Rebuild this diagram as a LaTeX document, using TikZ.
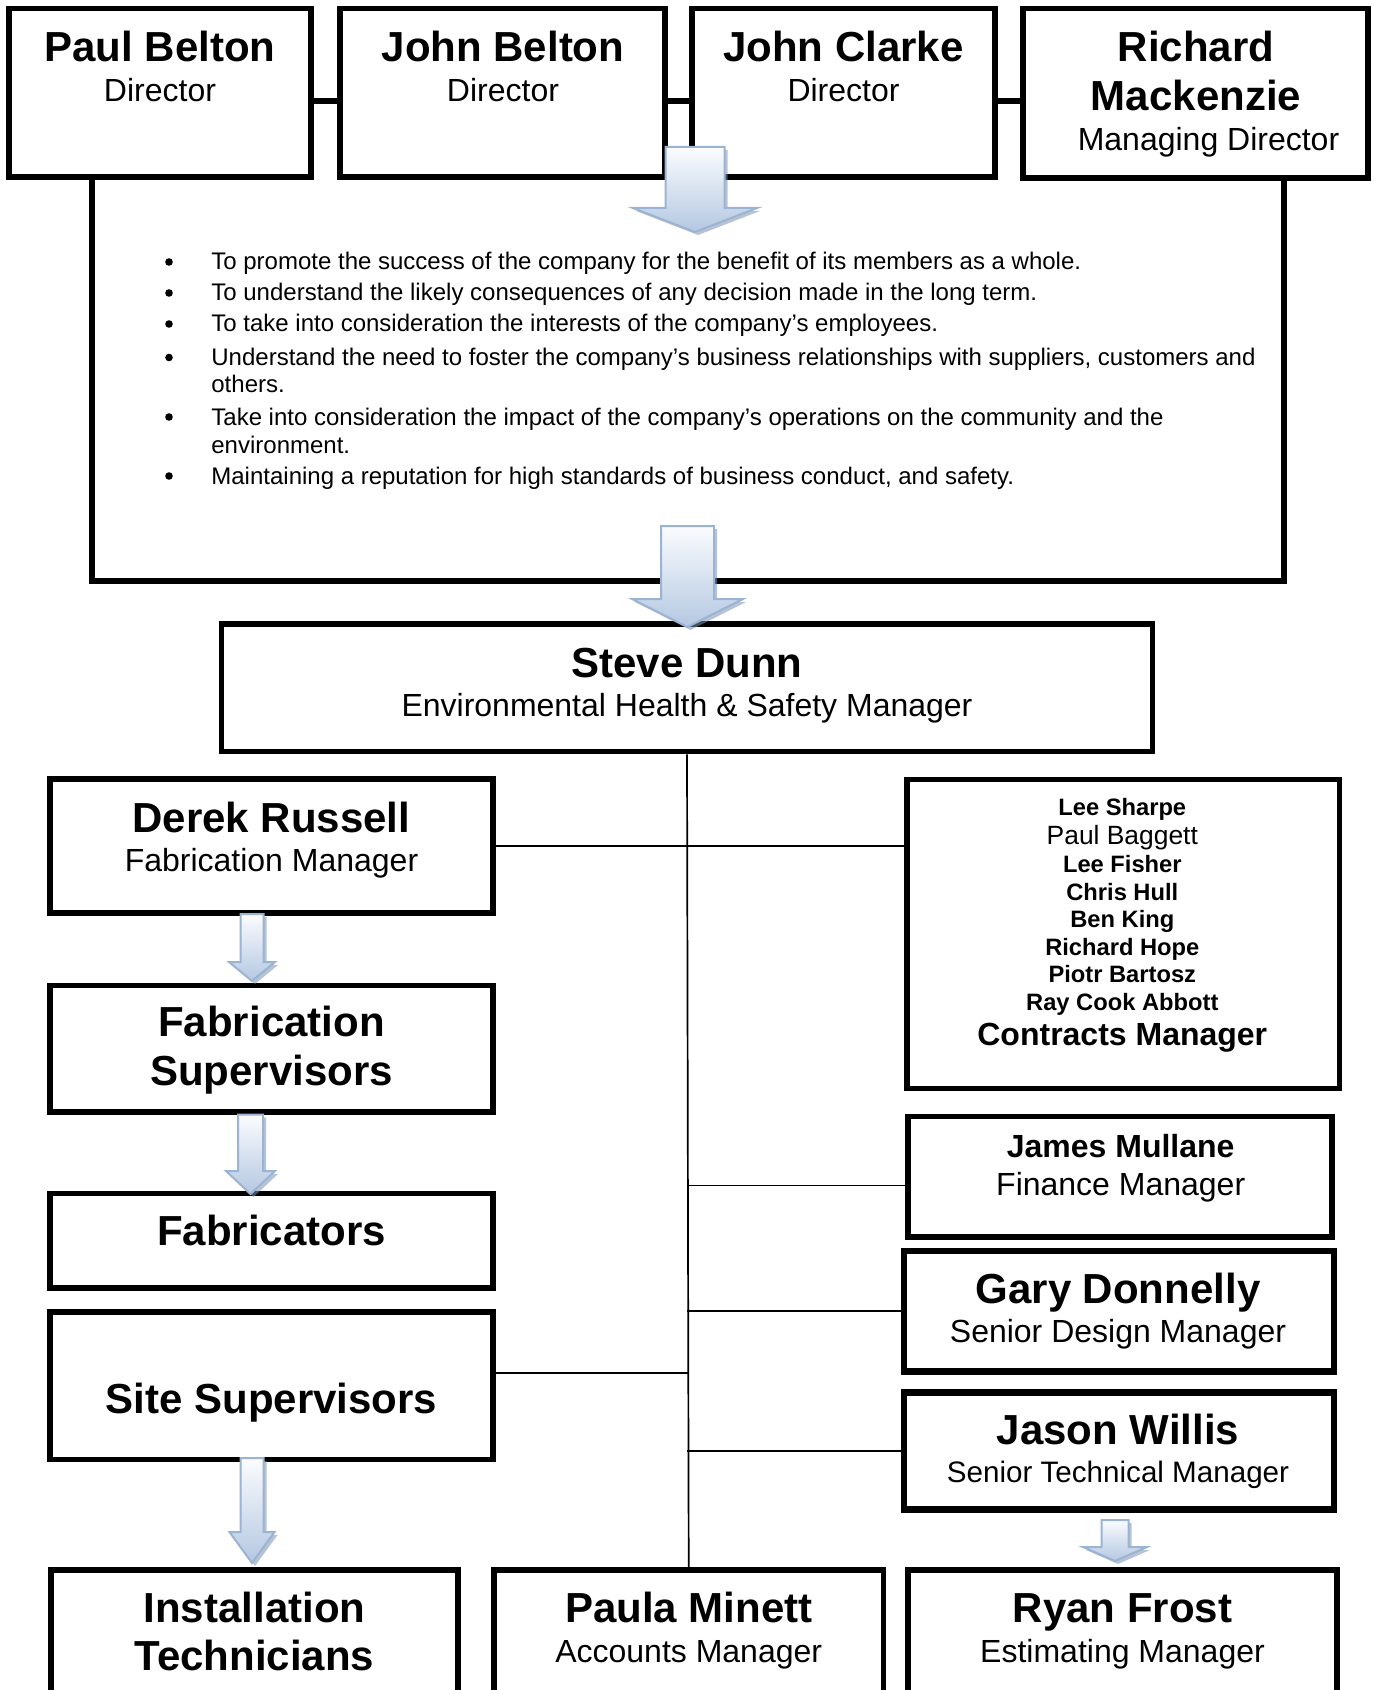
\documentclass[tikz,border=0pt]{standalone}
\usepackage{fontspec}
\setmainfont{Liberation Sans}
\usetikzlibrary{fit,calc}
\definecolor{arrtop}{HTML}{FBFCFE}
\definecolor{arrbot}{HTML}{B4C8E2}
\definecolor{arredge}{HTML}{9BB4D4}
\definecolor{arrshadow}{HTML}{7E92AE}
% #1 centre x, #2 top y, #3 tip y, #4 half shaft, #5 half head, #6 head length
\newcommand\blockarr[6]{%
  \fill[arrshadow,opacity=0.55] (#1-#4+3,#2+3) -- (#1+#4+3,#2+3) -- (#1+#4+3,#3-#6+3) -- (#1+#5+3,#3-#6+3) -- (#1+3,#3+3) -- (#1-#5+3,#3-#6+3) -- (#1-#4+3,#3-#6+3) -- cycle;
  \shadedraw[top color=arrtop,bottom color=arrbot,draw=arredge,line width=1pt] (#1-#4,#2) -- (#1+#4,#2) -- (#1+#4,#3-#6) -- (#1+#5,#3-#6) -- (#1,#3) -- (#1-#5,#3-#6) -- (#1-#4,#3-#6) -- cycle;
}
\tikzset{
  orgbox/.style={draw=black, line width=2.8pt, fill=white, inner sep=0pt},
  nm/.style={font=\bfseries\fontsize{21}{25}\selectfont, anchor=base, inner sep=0pt},
  rl/.style={font=\fontsize{16}{19}\selectfont, anchor=base, inner sep=0pt},
  conn/.style={draw=black, line width=0.85pt},
  bull/.style={circle, fill=black, inner sep=0pt, minimum size=3.8pt},
  btxt/.style={font=\fontsize{12}{14}\selectfont, anchor=base west, inner sep=0pt},
  small/.style={font=\bfseries\fontsize{11.85}{14}\selectfont, anchor=base, inner sep=0pt}
}
\begin{document}
\begin{tikzpicture}[x=0.5pt, y=-0.5pt]
\clip (0,0) rectangle (1374,1690);
\fill[white] (0,0) rectangle (1374,1690);

% board frame
\node[orgbox, fit={(92,101) (1284,581)}] (board) {};
% directors
\node[orgbox, fit={(9,8.5) (311,177)}] (paul) {};
\node[orgbox, fit={(340,8.5) (665,177)}] (johnb) {};
\node[orgbox, fit={(692,8.5) (995,177)}] (johnc) {};
\node[orgbox, fit={(1023,8.5) (1368,178)}] (richard) {};

\node[nm] (paulN) at (160,62) {Paul Belton};
\node[rl] (paulR) at (160,102) {Director};
\node[nm] (johnbN) at (503,62) {John Belton};
\node[rl] (johnbR) at (503,102) {Director};
\node[nm] (johncN) at (843.5,62) {John Clarke};
\node[rl] (johncR) at (843.5,102) {Director};
\node[nm] (richN1) at (1196,62) {Richard};
\node[nm] (richN2) at (1196,111) {Mackenzie};
\node[rl] (richR) at (1208.5,151) {Managing Director};

\blockarr{695}{147}{232}{29.5}{62}{24}

% duties
\node[bull] (b1) at (169,262) {};
\node[btxt] (t1) at (211,270) {To promote the success of the company for the benefit of its members as a whole.};
\node[bull] (b2) at (169,293) {};
\node[btxt] (t2) at (211,301) {To understand the likely consequences of any decision made in the long term.};
\node[bull] (b3) at (169,324) {};
\node[btxt] (t3) at (211,332) {To take into consideration the interests of the company’s employees.};
\node[bull] (b4) at (169,357.5) {};
\node[btxt] (t4) at (211,365.5) {Understand the need to foster the company’s business relationships with suppliers, customers and};
\node[btxt] (t4b) at (211,392.5) {others.};
\node[bull] (b5) at (169,417) {};
\node[btxt] (t5) at (211,425) {Take into consideration the impact of the company’s operations on the community and the};
\node[btxt] (t5b) at (211,453) {environment.};
\node[bull] (b6) at (169,476) {};
\node[btxt] (t6) at (211,484) {Maintaining a reputation for high standards of business conduct, and safety.};

% EHS manager
\node[orgbox, fit={(221.5,624) (1152.5,751.5)}] (steve) {};
\node[nm] (steveN) at (687,677) {Steve Dunn};
\node[rl] (steveR) at (687,716) {Environmental Health \& Safety Manager};
\blockarr{687.5}{526}{627}{26.5}{55.5}{28}

% left column
\node[orgbox, fit={(50,779) (493,913)}] (derek) {};
\node[nm] (derekN) at (271.5,832) {Derek Russell};
\node[rl] (derekR) at (271.5,871) {Fabrication Manager};

\node[orgbox, fit={(50,985.5) (493,1112)}] (fabsup) {};
\node[nm] (fabsupN1) at (271.5,1036.5) {Fabrication};
\node[nm] (fabsupN2) at (271.5,1085.5) {Supervisors};

\node[orgbox, fit={(50,1193.5) (493,1288)}] (fabr) {};
\node[nm] (fabrN) at (271.5,1245) {Fabricators};

\node[orgbox, fit={(50,1312) (493,1459.5)}] (site) {};
\node[nm] (siteN) at (271.5,1413) {Site Supervisors};

\node[orgbox, fit={(51,1569.7) (458,1725)}] (inst) {};
\node[nm] (instN1) at (254.5,1622) {Installation};
\node[nm] (instN2) at (254.5,1670) {Technicians};

\node[orgbox, fit={(494,1569.7) (883.4,1725)}] (paula) {};
\node[nm] (paulaN) at (688.7,1622) {Paula Minett};
\node[rl] (paulaR) at (688.7,1662) {Accounts Manager};

% right column
\node[orgbox, fit={(906.7,779.3) (1339.3,1088.3)}] (contracts) {};
\node[small] (c1) at (1122.3,815) {Lee Sharpe};
\node[rl, font=\fontsize{13.2}{16}\selectfont] (c2) at (1122.3,844.5) {Paul Baggett};
\node[small] (c3) at (1122.3,872.5) {Lee Fisher};
\node[small] (c4) at (1122.3,900.5) {Chris Hull};
\node[small] (c5) at (1122.3,927.5) {Ben King};
\node[small] (c6) at (1122.3,955.5) {Richard Hope};
\node[small] (c7) at (1122.3,982.5) {Piotr Bartosz};
\node[small] (c8) at (1122.3,1010.5) {Ray Cook Abbott};
\node[nm, font=\bfseries\fontsize{16}{19}\selectfont] (c9) at (1122.3,1045.5) {Contracts Manager};

\node[orgbox, fit={(908,1116.5) (1332,1237)}] (james) {};
\node[nm, font=\bfseries\fontsize{16}{19}\selectfont] (jamesN) at (1120.7,1157.5) {James Mullane};
\node[rl] (jamesR) at (1120.7,1195) {Finance Manager};

\node[orgbox, line width=3.2pt, fit={(904,1251) (1334,1371.5)}] (gary) {};
\node[nm] (garyN) at (1118,1303.5) {Gary Donnelly};
\node[rl] (garyR) at (1118,1342) {Senior Design Manager};

\node[orgbox, line width=3.2pt, fit={(904,1392.5) (1334,1509.5)}] (jason) {};
\node[nm] (jasonN) at (1118,1444.5) {Jason Willis};
\node[rl, font=\fontsize{14.8}{18}\selectfont] (jasonR) at (1118,1482) {Senior Technical Manager};

\node[orgbox, fit={(908,1569.7) (1337,1725)}] (ryan) {};
\node[nm] (ryanN) at (1122.5,1622) {Ryan Frost};
\node[rl] (ryanR) at (1122.5,1662) {Estimating Manager};

% connectors
\coordinate (spJames) at (687.6,1185.4);
\coordinate (spSite) at (687.8,1373);
\draw[conn] (steve.south) -- (paula.north);
\draw[conn] (derek.east) -- (derek.east -| contracts.west);
\draw[conn] (spJames) -- (spJames -| james.west);
\draw[conn] (gary.west -| steve.south) -- (gary.west);
\draw[conn] (jason.west -| steve.south) -- (jason.west);
\draw[conn] (site.east |- spSite) -- (spSite);

% block arrows
\blockarr{252}{914}{981}{11.5}{23}{19}
\blockarr{250.5}{1114.5}{1194}{12.5}{24.5}{23}
\blockarr{252}{1458}{1563}{11.5}{22.5}{31}
\blockarr{1115}{1520}{1561}{13.5}{32}{14}
\end{tikzpicture}
\end{document}
